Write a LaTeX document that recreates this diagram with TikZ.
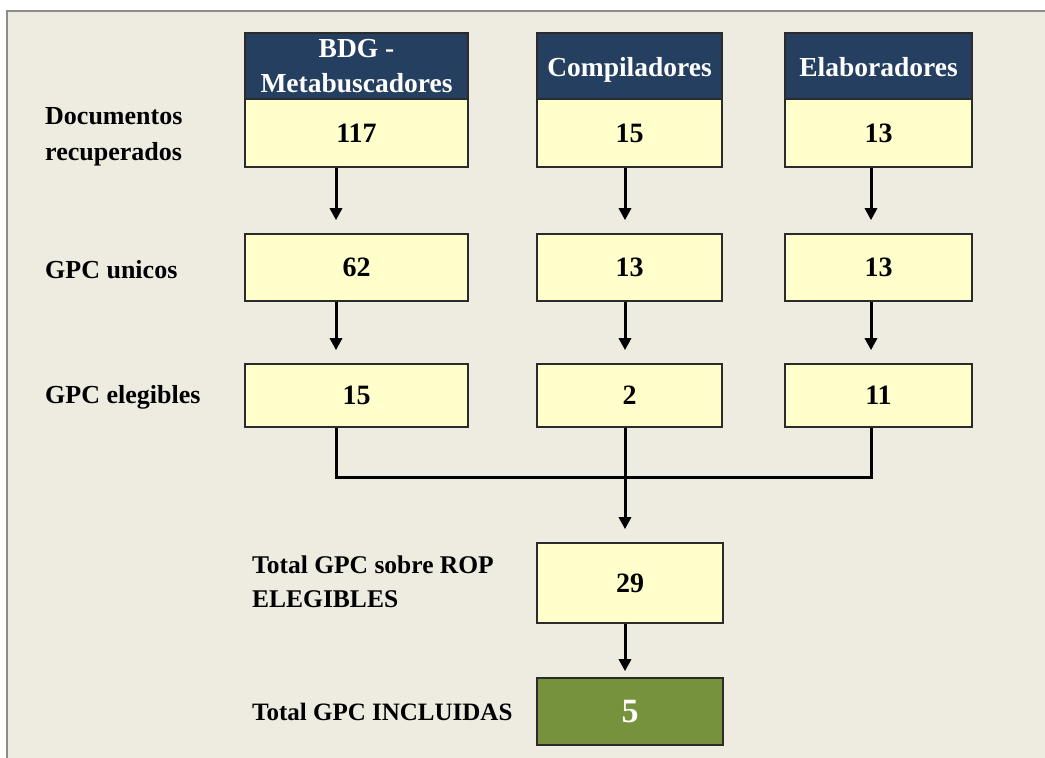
\documentclass[tikz,border=0pt]{standalone}
\usepackage{fontspec}
\setmainfont{Liberation Serif}
\usetikzlibrary{arrows.meta}
\definecolor{bgc}{HTML}{EEECE1}
\definecolor{navy}{HTML}{243F60}
\definecolor{pale}{HTML}{FFFFCC}
\definecolor{olive}{HTML}{76923C}
\definecolor{frame}{HTML}{8C8C8C}
\definecolor{edge}{HTML}{2B2B2B}
\tikzset{
  box/.style={draw=edge, line width=1.6pt, fill=pale, inner sep=0pt,
    font=\fontsize{28}{32}\selectfont\bfseries, text=black, align=center},
  head/.style={box, fill=navy, text=white, font=\fontsize{27.5}{35}\selectfont\bfseries},
  final/.style={box, fill=olive, text=white, font=\fontsize{34}{36}\selectfont\bfseries},
  lbl/.style={anchor=west, align=left, inner sep=0pt,
    font=\fontsize{26}{36}\selectfont\bfseries},
  ln/.style={line width=3pt, draw=black},
  arr/.style={ln, -{Triangle[length=12pt,width=12pt]}, shorten >=13pt}
}
\begin{document}
\begin{tikzpicture}[x=1pt,y=-1pt]
\useasboundingbox (0,0) rectangle (1045,758);
\fill[white] (0,0) rectangle (1045,758);
\fill[bgc] (7,11) rectangle (1045,758);
\draw[frame, line width=1.5pt] (7,758) -- (7,11) -- (1045,11);

% column x positions for connectors
\coordinate (xA) at (336,0);
\coordinate (xB) at (625,0);
\coordinate (xC) at (871,0);

% row 1
\node[box, minimum width=223pt, minimum height=68pt] (a1) at (356.5,133) {117};
\node[box, minimum width=185pt, minimum height=68pt] (a2) at (629.5,133) {15};
\node[box, minimum width=187pt, minimum height=68pt] (a3) at (878.5,133) {13};

% headers
\node[head, minimum width=223pt, minimum height=66pt] (h1) at (356.5,66) {BDG -\\Metabuscadores};
\node[head, minimum width=185pt, minimum height=66pt] (h2) at (629.5,66) {\rule[-6pt]{0pt}{32pt}Compiladores};
\node[head, minimum width=187pt, minimum height=66pt] (h3) at (878.5,66) {\rule[-6pt]{0pt}{32pt}Elaboradores};

% row 2
\node[box, minimum width=223pt, minimum height=67pt] (b1) at (356.5,267.5) {62};
\node[box, minimum width=185pt, minimum height=67pt] (b2) at (629.5,267.5) {13};
\node[box, minimum width=187pt, minimum height=67pt] (b3) at (878.5,267.5) {13};

% row 3
\node[box, minimum width=223pt, minimum height=63pt] (c1) at (356.5,395.5) {15};
\node[box, minimum width=185pt, minimum height=63pt] (c2) at (629.5,395.5) {2};
\node[box, minimum width=187pt, minimum height=63pt] (c3) at (878.5,395.5) {11};

% totals
\node[box, minimum width=186pt, minimum height=80pt] (t1) at (630,583) {29};
\node[final, minimum width=186pt, minimum height=67pt] (t2) at (630,711.5) {5};

% labels
\node[lbl] (l1) at (45,137) {Documentos\\recuperados};
\node[lbl] (l2) at (45,270) {GPC unicos};
\node[lbl] (l3) at (45,397) {GPC elegibles};
\node[lbl, font=\fontsize{25.5}{34}\selectfont\bfseries] (l4) at (252,582) {Total GPC sobre ROP\\ELEGIBLES};
\node[lbl, font=\fontsize{25}{34}\selectfont\bfseries] (l5) at (252,712) {Total GPC INCLUIDAS};

% arrows
\draw[arr] (a1.south -| xA) -- (b1.north -| xA);
\draw[arr] (a2.south -| xB) -- (b2.north -| xB);
\draw[arr] (a3.south -| xC) -- (b3.north -| xC);
\draw[arr] (b1.south -| xA) -- (c1.north -| xA);
\draw[arr] (b2.south -| xB) -- (c2.north -| xB);
\draw[arr] (b3.south -| xC) -- (c3.north -| xC);

\coordinate (m) at (625,477);
\draw[ln, line cap=butt] (c1.south -| xA) |- (m) -| (c3.south -| xC);
\draw[arr] (c2.south -| xB) -- (t1.north -| xB);
\draw[arr, shorten >=6pt] (t1.south -| xB) -- (t2.north -| xB);
\end{tikzpicture}
\end{document}
